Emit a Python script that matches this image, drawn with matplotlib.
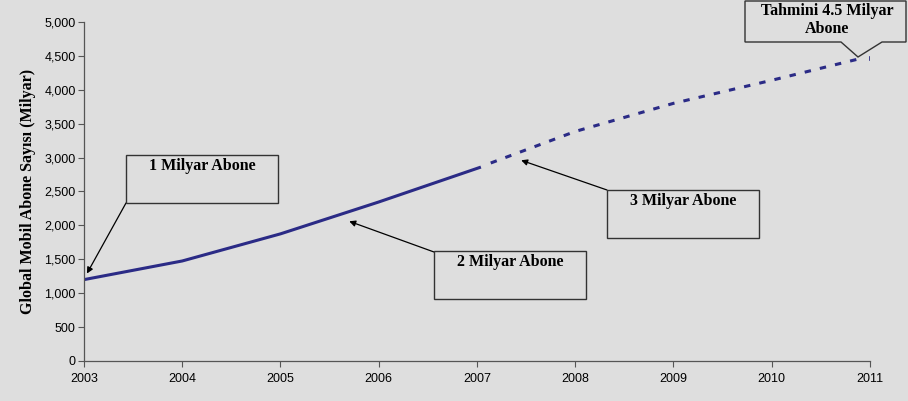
import matplotlib.pyplot as plt
from matplotlib.patches import Polygon
from matplotlib.ticker import FuncFormatter

# abone sayıları (milyon) - gerçekleşen ve tahmini
years_actual = [2003, 2004, 2005, 2006, 2007.04]
subs_actual = [1200, 1475, 1875, 2345, 2860]
years_forecast = [2007.14, 2008, 2009, 2010, 2010.9]
subs_forecast = [2920, 3385, 3800, 4140, 4460]
year_ticks = [2003, 2004, 2005, 2006, 2007, 2008, 2009, 2010, 2011]

bg = '#dedede'
line_col = '#2b2b86'

fig = plt.figure(figsize=(9.08, 4.01), dpi=100, facecolor=bg)
ax = fig.add_axes([0.0925, 0.0998, 0.8656, 0.8454], facecolor=bg)

ax.plot(years_actual, subs_actual, color=line_col, lw=2.2, solid_capstyle='butt')
ax.plot(years_forecast, subs_forecast, color=line_col, lw=2.2,
        dashes=(2.1, 3.0), dash_capstyle='butt')
# son nokta
ax.plot([2011, 2011], [4440, 4490], color=line_col, lw=1.2)

ax.set_xlim(2003, 2011)
ax.set_ylim(0, 5000)
ax.set_xticks(year_ticks)
ax.set_yticks(range(0, 5001, 500))
ax.yaxis.set_major_formatter(FuncFormatter(lambda v, p: f'{int(v):,}'))

for s in ['top', 'right']:
    ax.spines[s].set_visible(False)
for s in ['left', 'bottom']:
    ax.spines[s].set_color('#555555')
    ax.spines[s].set_linewidth(0.9)
ax.tick_params(colors='#555555', labelcolor='black', length=4, width=0.8,
               labelsize=9)
for lab in ax.get_xticklabels() + ax.get_yticklabels():
    lab.set_family('Liberation Sans')
ax.tick_params(axis='x', pad=5)
ax.tick_params(axis='y', pad=2)

ax.set_ylabel('Global Mobil Abone Sayısı (Milyar)', family='Liberation Serif',
              fontweight='bold', fontsize=11.5, labelpad=6)

serif = dict(family='Liberation Serif', fontweight='bold', fontsize=11.5)
arrow = dict(arrowstyle='-|>', color='black', lw=0.9, mutation_scale=9,
             shrinkA=0, shrinkB=0)


def label_box(x0, y0, w, h, text, start, tip):
    # kutu (piksel koordinatları, sol üst köşeden) ve veriye giden ok
    fig.patches.append(plt.Rectangle((x0 / 908, 1 - (y0 + h) / 401), w / 908, h / 401,
                                     transform=fig.transFigure, fill=False,
                                     ec='#333333', lw=1.0))
    fig.text((x0 + w / 2) / 908, 1 - (y0 + 11) / 401, text, ha='center',
             va='center', **serif)
    ax.annotate('', xy=tip, xycoords='data',
                xytext=(start[0] / 908, 1 - start[1] / 401),
                textcoords='figure fraction', arrowprops=arrow)


label_box(126, 155, 152, 48, '1 Milyar Abone', (126, 203), (2003.03, 1290))
label_box(434, 251, 152, 48, '2 Milyar Abone', (434, 252), (2005.7, 2060))
label_box(607, 190, 152, 48, '3 Milyar Abone', (607, 190), (2007.45, 2960))

# tahmini callout
pts = [(745, 1), (906, 1), (906, 42), (882, 42), (858, 57), (841, 42), (745, 42)]
fig.patches.append(Polygon([(x / 908, 1 - y / 401) for x, y in pts], closed=True,
                           transform=fig.transFigure, fc=bg, ec='#333333', lw=1.0))
fig.text(827 / 908, 1 - 11 / 401, 'Tahmini 4.5 Milyar', ha='center', va='center', **serif)
fig.text(827 / 908, 1 - 29 / 401, 'Abone', ha='center', va='center', **serif)

fig.savefig('out.png', dpi=100, facecolor=bg)
